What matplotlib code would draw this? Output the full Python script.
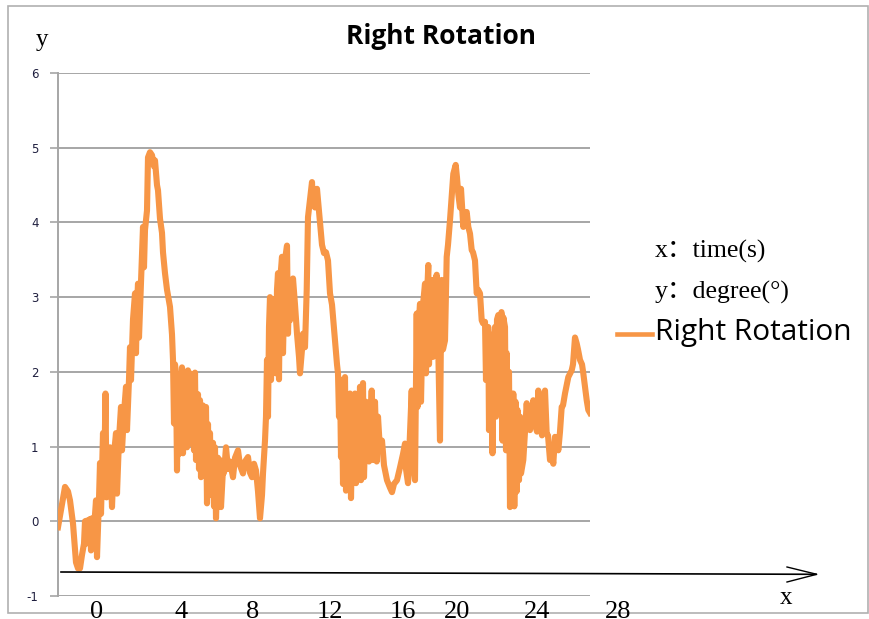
import matplotlib
matplotlib.use("Agg")
import matplotlib.pyplot as plt
from matplotlib.patches import Rectangle
from matplotlib.lines import Line2D

# sample index (Excel category axis) and rotation in degrees
sample = [0, 3, 7, 10, 12, 15, 18, 20, 22, 24,
          26, 27, 28, 29, 31, 32, 33, 34, 36, 38,
          39, 41, 42, 43, 45, 46, 47.5, 48.5, 50, 52,
          54, 56, 58, 59, 61, 63, 64, 66, 68, 69,
          71, 72, 73, 75, 77, 78, 79, 80, 81, 83,
          85, 86, 87, 89, 90, 92, 94, 96, 97, 99,
          100, 102, 104, 105, 107, 109, 111, 112, 114, 115,
          116, 117, 118, 119, 120, 121, 122, 123, 124, 125,
          126, 127, 128, 129, 130, 131, 132, 133, 135, 136,
          137, 138, 140, 141, 142, 143, 145, 146, 148, 149,
          150, 151, 152, 153, 155, 156, 157, 158, 160, 161,
          162, 163, 165, 166, 168, 170, 172, 175, 177, 180,
          182, 185, 187, 190, 192, 194, 196, 198, 200, 202,
          204, 205, 207, 208, 209, 210, 211, 212, 213, 215,
          217, 218, 219, 220, 221, 222, 224, 225, 227, 229,
          230, 231, 232, 234, 235, 237, 239, 241, 242, 244,
          245, 247, 248.7, 250, 252, 254, 255, 257, 259, 260,
          262, 264, 266, 268, 270, 272, 274, 277, 279, 280,
          281, 282, 283, 284, 285, 287, 288, 290, 291, 292,
          293, 295, 296, 297, 298, 300, 301, 302, 303, 305,
          306, 308, 309, 310, 311, 313.7, 315, 317, 318.7, 320,
          322, 324, 326, 329, 332, 334, 336, 339, 342, 345,
          347, 348, 350, 352, 353.7, 355, 357, 358.7, 359.5, 361,
          362, 363, 365, 367, 368, 369, 370.3, 371, 373, 374,
          375, 377, 378.7, 380, 382, 383, 383.7, 385, 387, 388.7,
          390, 392, 394, 395.3, 397.7, 399, 400.3, 402, 403, 405.3,
          407, 408.7, 410.3, 412, 413.7, 415, 417, 418.7, 420, 422,
          423.7, 425, 427, 428, 429, 430.3, 431, 432, 433.7, 434.5,
          435.5, 437, 438, 439, 440.3, 441, 442, 443.5, 444.5, 445.3,
          447, 448, 448.7, 449.5, 451, 452, 453, 454, 455.3, 456.3,
          457.5, 458.7, 459.5, 461, 462, 463, 465.3, 467, 468.7, 470,
          472, 474, 475.3, 477, 479, 480.3, 482, 484, 485, 487,
          488.7, 490, 492, 494, 495.3, 497, 499, 500.3, 502, 503.7,
          505, 507, 510.3, 513.7, 515, 517, 518.7, 520, 522, 524,
          525.3, 528.7, 530.3, 532]

rotation = [-0.08, 0.15, 0.46, 0.40, 0.28, -0.03, -0.55, -0.63, -0.63, -0.45,
            -0.30, 0.00, -0.30, 0.01, -0.20, 0.03, -0.39, 0.04, -0.10, 0.28,
            -0.48, 0.30, 0.78, 0.10, 1.18, 0.40, 1.71, 0.32, 0.60, 0.99,
            0.19, 0.90, 1.18, 0.37, 1.10, 1.53, 0.95, 1.45, 1.80, 1.22,
            1.90, 2.33, 1.89, 2.70, 3.05, 2.25, 2.90, 3.18, 2.46, 3.20,
            3.94, 3.40, 3.90, 4.16, 4.87, 4.94, 4.90, 4.75, 4.83, 4.50,
            4.43, 4.05, 3.86, 3.60, 3.32, 3.10, 2.95, 2.87, 2.50, 2.16,
            1.31, 2.10, 1.98, 0.68, 1.80, 0.90, 1.95, 1.00, 2.06, 0.91,
            1.90, 1.05, 2.00, 0.99, 2.02, 1.10, 1.98, 1.04, 1.85, 0.95,
            1.99, 0.82, 1.70, 0.70, 1.62, 0.59, 1.55, 0.75, 1.53, 0.24,
            1.30, 0.40, 1.18, 0.35, 1.05, 0.20, 0.99, 0.04, 0.85, 0.30,
            0.82, 0.19, 0.70, 0.65, 0.99, 0.70, 0.80, 0.59, 0.85, 0.95,
            0.75, 0.64, 0.80, 0.86, 0.65, 0.59, 0.77, 0.68, 0.40, 0.04,
            0.35, 0.64, 1.08, 1.40, 2.16, 1.40, 2.60, 3.00, 1.89, 2.90,
            2.98, 1.98, 3.10, 3.32, 1.90, 3.20, 3.54, 2.25, 3.50, 3.69,
            2.51, 3.00, 2.69, 2.80, 3.25, 2.90, 2.51, 2.20, 1.98, 2.30,
            2.51, 2.33, 3.09, 4.07, 4.30, 4.54, 4.25, 4.20, 4.45, 4.30,
            3.99, 3.70, 3.59, 3.60, 3.49, 3.05, 2.90, 2.42, 2.10, 1.98,
            1.40, 1.90, 0.86, 1.62, 0.50, 1.93, 0.41, 1.70, 0.60, 1.71,
            0.31, 1.60, 0.55, 1.71, 0.51, 1.65, 0.70, 1.80, 0.55, 1.85,
            0.59, 1.60, 0.90, 1.53, 0.80, 1.75, 0.82, 1.60, 0.80, 1.40,
            0.95, 1.08, 0.75, 0.55, 0.45, 0.39, 0.50, 0.55, 0.72, 0.90,
            1.04, 0.70, 0.51, 1.20, 1.75, 0.80, 0.55, 2.78, 1.53, 2.70,
            2.91, 1.60, 2.90, 3.18, 1.98, 3.00, 3.43, 2.10, 3.10, 3.23,
            2.20, 3.20, 3.30, 2.50, 1.08, 2.60, 3.23, 2.30, 2.42, 3.54,
            3.70, 4.03, 4.40, 4.65, 4.77, 4.60, 4.38, 4.20, 4.45, 3.94,
            4.10, 4.14, 3.94, 3.85, 3.63, 3.60, 3.49, 3.05, 3.10, 3.05,
            2.69, 2.65, 2.67, 1.89, 2.60, 2.60, 1.22, 2.50, 2.38, 0.91,
            2.30, 2.60, 1.40, 2.70, 2.76, 1.50, 2.70, 2.80, 1.08, 2.73,
            2.60, 0.95, 2.25, 1.00, 2.00, 0.19, 1.71, 0.25, 1.71, 0.20,
            1.60, 0.40, 1.49, 0.55, 1.40, 0.64, 0.82, 1.20, 1.58, 1.30,
            1.22, 1.50, 1.62, 1.30, 1.20, 1.75, 1.40, 1.15, 1.45, 1.75,
            1.17, 1.15, 0.82, 0.90, 0.77, 1.13, 1.10, 0.95, 1.20, 1.53,
            1.55, 1.71, 1.93, 2.02, 2.10, 2.46, 2.38, 2.30, 2.16, 2.10,
            1.98, 1.62, 1.49, 1.45]

y_ticks = [-1, 0, 1, 2, 3, 4, 5, 6]
time_labels = ["0", "4", "8", "12", "16", "20", "24", "28"]
time_label_px = [97, 181, 253, 330, 403, 457, 537, 618]

ORANGE = "#F79646"
GRID = "#A6A6A6"
W, H = 870, 619

fig = plt.figure(figsize=(W / 100, H / 100), dpi=100)
fig.patch.set_facecolor("white")

# outer chart frame
fig.add_artist(Rectangle((8 / W, 6 / H), 860 / W, 607 / H, transform=fig.transFigure,
                         fill=False, edgecolor="#B0B0B0", linewidth=1.2))

ax = fig.add_axes([58 / W, 23 / H, 532 / W, 523 / H])
ax.plot(sample, rotation, color=ORANGE, linewidth=4.4, solid_joinstyle="round", zorder=3)

ax.set_xlim(0, 532)
ax.set_ylim(-1, 6)
ax.set_yticks(y_ticks)
ax.set_yticklabels([str(v) for v in y_ticks], fontsize=8.5, color="#1F1F3F")
ax.set_xticks([])
ax.tick_params(axis="y", length=6, width=1.2, color=GRID, pad=8)
ax.grid(axis="y", color=GRID, linewidth=1.4)
ax.set_axisbelow(True)
for side in ["top", "right", "bottom"]:
    ax.spines[side].set_visible(False)
ax.spines["left"].set_color(GRID)
ax.spines["left"].set_linewidth(1.4)
ax.patch.set_alpha(0)

fig.text(441 / W, 1 - 37 / H, "Right Rotation", ha="center", va="center",
         fontsize=19, fontweight="bold", family="Open Sans")

serif = ["Liberation Serif", "Noto Sans CJK SC"]
fig.text(42 / W, 1 - 40 / H, "y", ha="center", va="center", fontsize=18, family=serif)
fig.text(786 / W, 1 - 598 / H, "x", ha="center", va="center", fontsize=18, family=serif)

# hand-drawn time axis with open arrow head
fig.add_artist(Line2D([61 / W, 816 / W], [1 - 572 / H, 1 - 574.3 / H], color="black", linewidth=1.2))
fig.add_artist(Line2D([787 / W, 816.7 / W, 787 / W], [1 - 567 / H, 1 - 574.3 / H, 1 - 582 / H],
                      color="black", linewidth=1.0))

for lab, px in zip(time_labels, time_label_px):
    fig.text(px / W, 1 - 601 / H, lab, ha="center", va="top", fontsize=19, family=serif)

fig.text(655 / W, 1 - 251 / H, "x：time(s)", ha="left", va="center", fontsize=18.5, family=serif)
fig.text(655 / W, 1 - 292 / H, "y：degree(°)", ha="left", va="center", fontsize=18.5, family=serif)
fig.add_artist(Line2D([617 / W, 652 / W], [1 - 334 / H, 1 - 334 / H], color=ORANGE, linewidth=3.3))
fig.text(655 / W, 1 - 333 / H, "Right Rotation", ha="left", va="center", fontsize=21.5, family="Open Sans")

fig.savefig("out.png", dpi=100)
